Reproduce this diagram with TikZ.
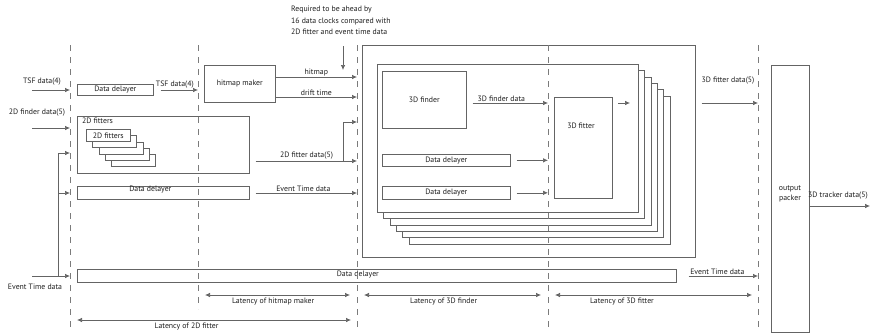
\documentclass[tikz,border=0pt]{standalone}
\usepackage{fontspec}
\setmainfont{PT Sans}
\usetikzlibrary{arrows.meta}
\definecolor{linegray}{RGB}{100,100,100}
\definecolor{textgray}{RGB}{30,30,30}

\begin{document}
\begin{tikzpicture}[x=1pt, y=-1pt,
    every node/.style={font=\fontsize{7.8}{9}\selectfont, text=textgray, inner sep=1pt},
    box/.style={draw=linegray, line width=0.7pt, anchor=north west, inner sep=0pt},
    stackbox/.style={box, fill=white},
    sync/.style={draw=linegray!85, line width=0.7pt, dash pattern=on 6pt off 6pt},
    arr/.style={draw=linegray, line width=0.7pt, -{Latex[length=5pt,width=4.5pt]}},
    lat/.style={draw=linegray, line width=0.7pt, {Latex[length=5pt,width=4.5pt]}-{Latex[length=5pt,width=4.5pt]}},
    wire/.style={draw=linegray, line width=0.7pt}]
    \useasboundingbox (0,0) rectangle (873,335);

    % timing borders
    \coordinate (d1) at (70,45);
    \coordinate (d2) at (198,45);
    \coordinate (d3) at (357,45);
    \coordinate (d4) at (548,45);
    \coordinate (d5) at (758,45);

    % 2D side
    \node[box, minimum width=76pt, minimum height=11pt] (tsfdelay) at (77,84) {Data delayer};
    \node[box, minimum width=71pt, minimum height=37pt] (hitmap) at (204,65) {hitmap maker};
    \node[box, minimum width=172pt, minimum height=57pt,
          label={[anchor=north west, xshift=4pt, yshift=-1pt]north west:2D fitters}] (fit2d) at (77,116) {};
    \foreach \i in {4,...,1}
        \node[stackbox, minimum width=44pt, minimum height=12pt] (fit\i) at (86+6.3*\i,129+6.3*\i) {};
    \node[stackbox, minimum width=44pt, minimum height=12pt] (fit0) at (86,129) {2D fitters};
    \node[box, minimum width=172pt, minimum height=13pt,
          label={[xshift=-13pt, yshift=3pt]center:Data delayer}] (etdelay) at (77,186) {};
    \node[box, minimum width=599pt, minimum height=13pt,
          label={[xshift=-19pt, yshift=1pt]center:Data delayer}] (longdelay) at (77,269) {};

    % 3D side
    \node[box, minimum width=333pt, minimum height=212pt] (box3d) at (362,45) {};
    \foreach \i in {5,...,0}
        \node[stackbox, minimum width=261pt, minimum height=148pt] (tr\i) at (377+6.3*\i,64+6.3*\i) {};
    \node[box, minimum width=84pt, minimum height=57pt] (finder) at (382,71) {3D finder};
    \node[box, minimum width=58pt, minimum height=101pt] (fitter3d) at (554,97) {};
    \node (fitter3dtxt) at (581,126) {3D fitter};
    \node[box, minimum width=128pt, minimum height=12pt] (delayA) at (382,154) {Data delayer};
    \node[box, minimum width=128pt, minimum height=13pt] (delayB) at (382,186) {Data delayer};
    \node[box, minimum width=38pt, minimum height=267pt] (packer) at (771,65) {};
    \node[align=center, font=\fontsize{7.8}{10.5}\selectfont] (packertxt) at (790,194) {output\\packer};

    % inputs
    \coordinate (tsfin) at (32,90);
    \coordinate (finderin) at (32,128);
    \coordinate (etin) at (32,276);
    \coordinate (etbus) at (58,276);
    \draw[arr] (tsfin) -- (tsfin -| d1);
    \node (tsflabel) at (42,82) {TSF data(4)};
    \draw[arr] (finderin) -- (finderin -| d1);
    \node (finderlabel) at (37,113) {2D finder data(5)};
    \draw[arr] (etin) -- (etin -| d1);
    \node (etlabel) at (35,287) {Event Time data};
    \draw[wire] (etbus) -- (58,153);
    \draw[arr] (58,153) -- (d1 |- 0,153);
    \draw[arr] (58,193) -- (d1 |- 0,193);

    % 2D to 3D
    \draw[arr, shorten <=7pt] (tsfdelay.east |- 0,90) -- node[above, xshift=-1pt] {TSF data(4)} (d2 |- 0,90);
    \draw[arr] (hitmap.east |- 0,77) -- node[above] {hitmap} (d3 |- 0,77);
    \draw[arr] (hitmap.east |- 0,97) -- node[above] {drift time} (d3 |- 0,97);
    \node[anchor=north west, align=left, font=\fontsize{7.8}{11.5}\selectfont] (req) at (290,5)
        {Required to be ahead by\\16 data clocks compared with\\2D fitter and event time data};
    \coordinate (reqtop) at (343,46);
    \draw[arr] (reqtop) -- (343,70);
    \draw[arr, shorten <=6pt] (fit2d.east |- 0,161) -- node[above, pos=0.53] {2D fitter data(5)} (d3 |- 0,161);
    \coordinate (fitbranch) at (343,161);
    \draw[arr] (fitbranch) |- (d3 |- 0,122);
    \draw[arr, shorten <=6pt] (etdelay.east |- 0,193) -- node[above] {Event Time data} (d3 |- 0,193);

    % 3D internals
    \draw[arr, shorten <=6pt] (finder.east |- 0,103) -- node[above, xshift=-6pt] {3D finder data} (d4 |- 0,103);
    \draw[arr, shorten <=6pt] (delayA.east) -- (d4 |- delayA.east);
    \draw[arr, shorten <=6pt] (delayB.east) -- (d4 |- delayB.east);
    \draw[arr] (618,103) -- (630,103);

    % to output packer
    \draw[arr, shorten <=6pt] (box3d.east |- 0,103) -- (d5 |- 0,103);
    \node (fitdatalabel) at (728,81) {3D fitter data(5)};
    \draw[arr, shorten <=12pt] (longdelay.east |- 0,276) -- node[above] {Event Time data} (d5 |- 0,276);
    \draw[arr] (packer.east |- 0,206) -- (870,206);
    \node[anchor=west] (trackerlabel) at (807,196) {3D tracker data(5)};

    % latencies
    \draw[lat] ([xshift=7pt]d2 |- 0,295) -- node[below=2pt, pos=0.47] {Latency of hitmap maker} ([xshift=-7pt]d3 |- 0,295);
    \draw[lat] ([xshift=7pt]d3 |- 0,295) -- node[below=2pt, pos=0.45] {Latency of 3D finder} ([xshift=-7pt]d4 |- 0,295);
    \draw[lat] ([xshift=7pt]d4 |- 0,295) -- node[below=2pt, pos=0.34] {Latency of 3D fitter} ([xshift=-6pt]d5 |- 0,295);
    \draw[lat] ([xshift=7pt]d1 |- 0,320) -- node[below=2pt, pos=0.4] {Latency of 2D fitter} ([xshift=-6pt]d3 |- 0,320);

    % borders on top
    \draw[sync] (d1) -- ++(0,282);
    \draw[sync] (d2) -- ++(0,264);
    \draw[sync] (d3) -- ++(0,282);
    \draw[sync] (d4) -- ++(0,282);
    \draw[sync] (d5) -- ++(0,282);
\end{tikzpicture}
\end{document}
